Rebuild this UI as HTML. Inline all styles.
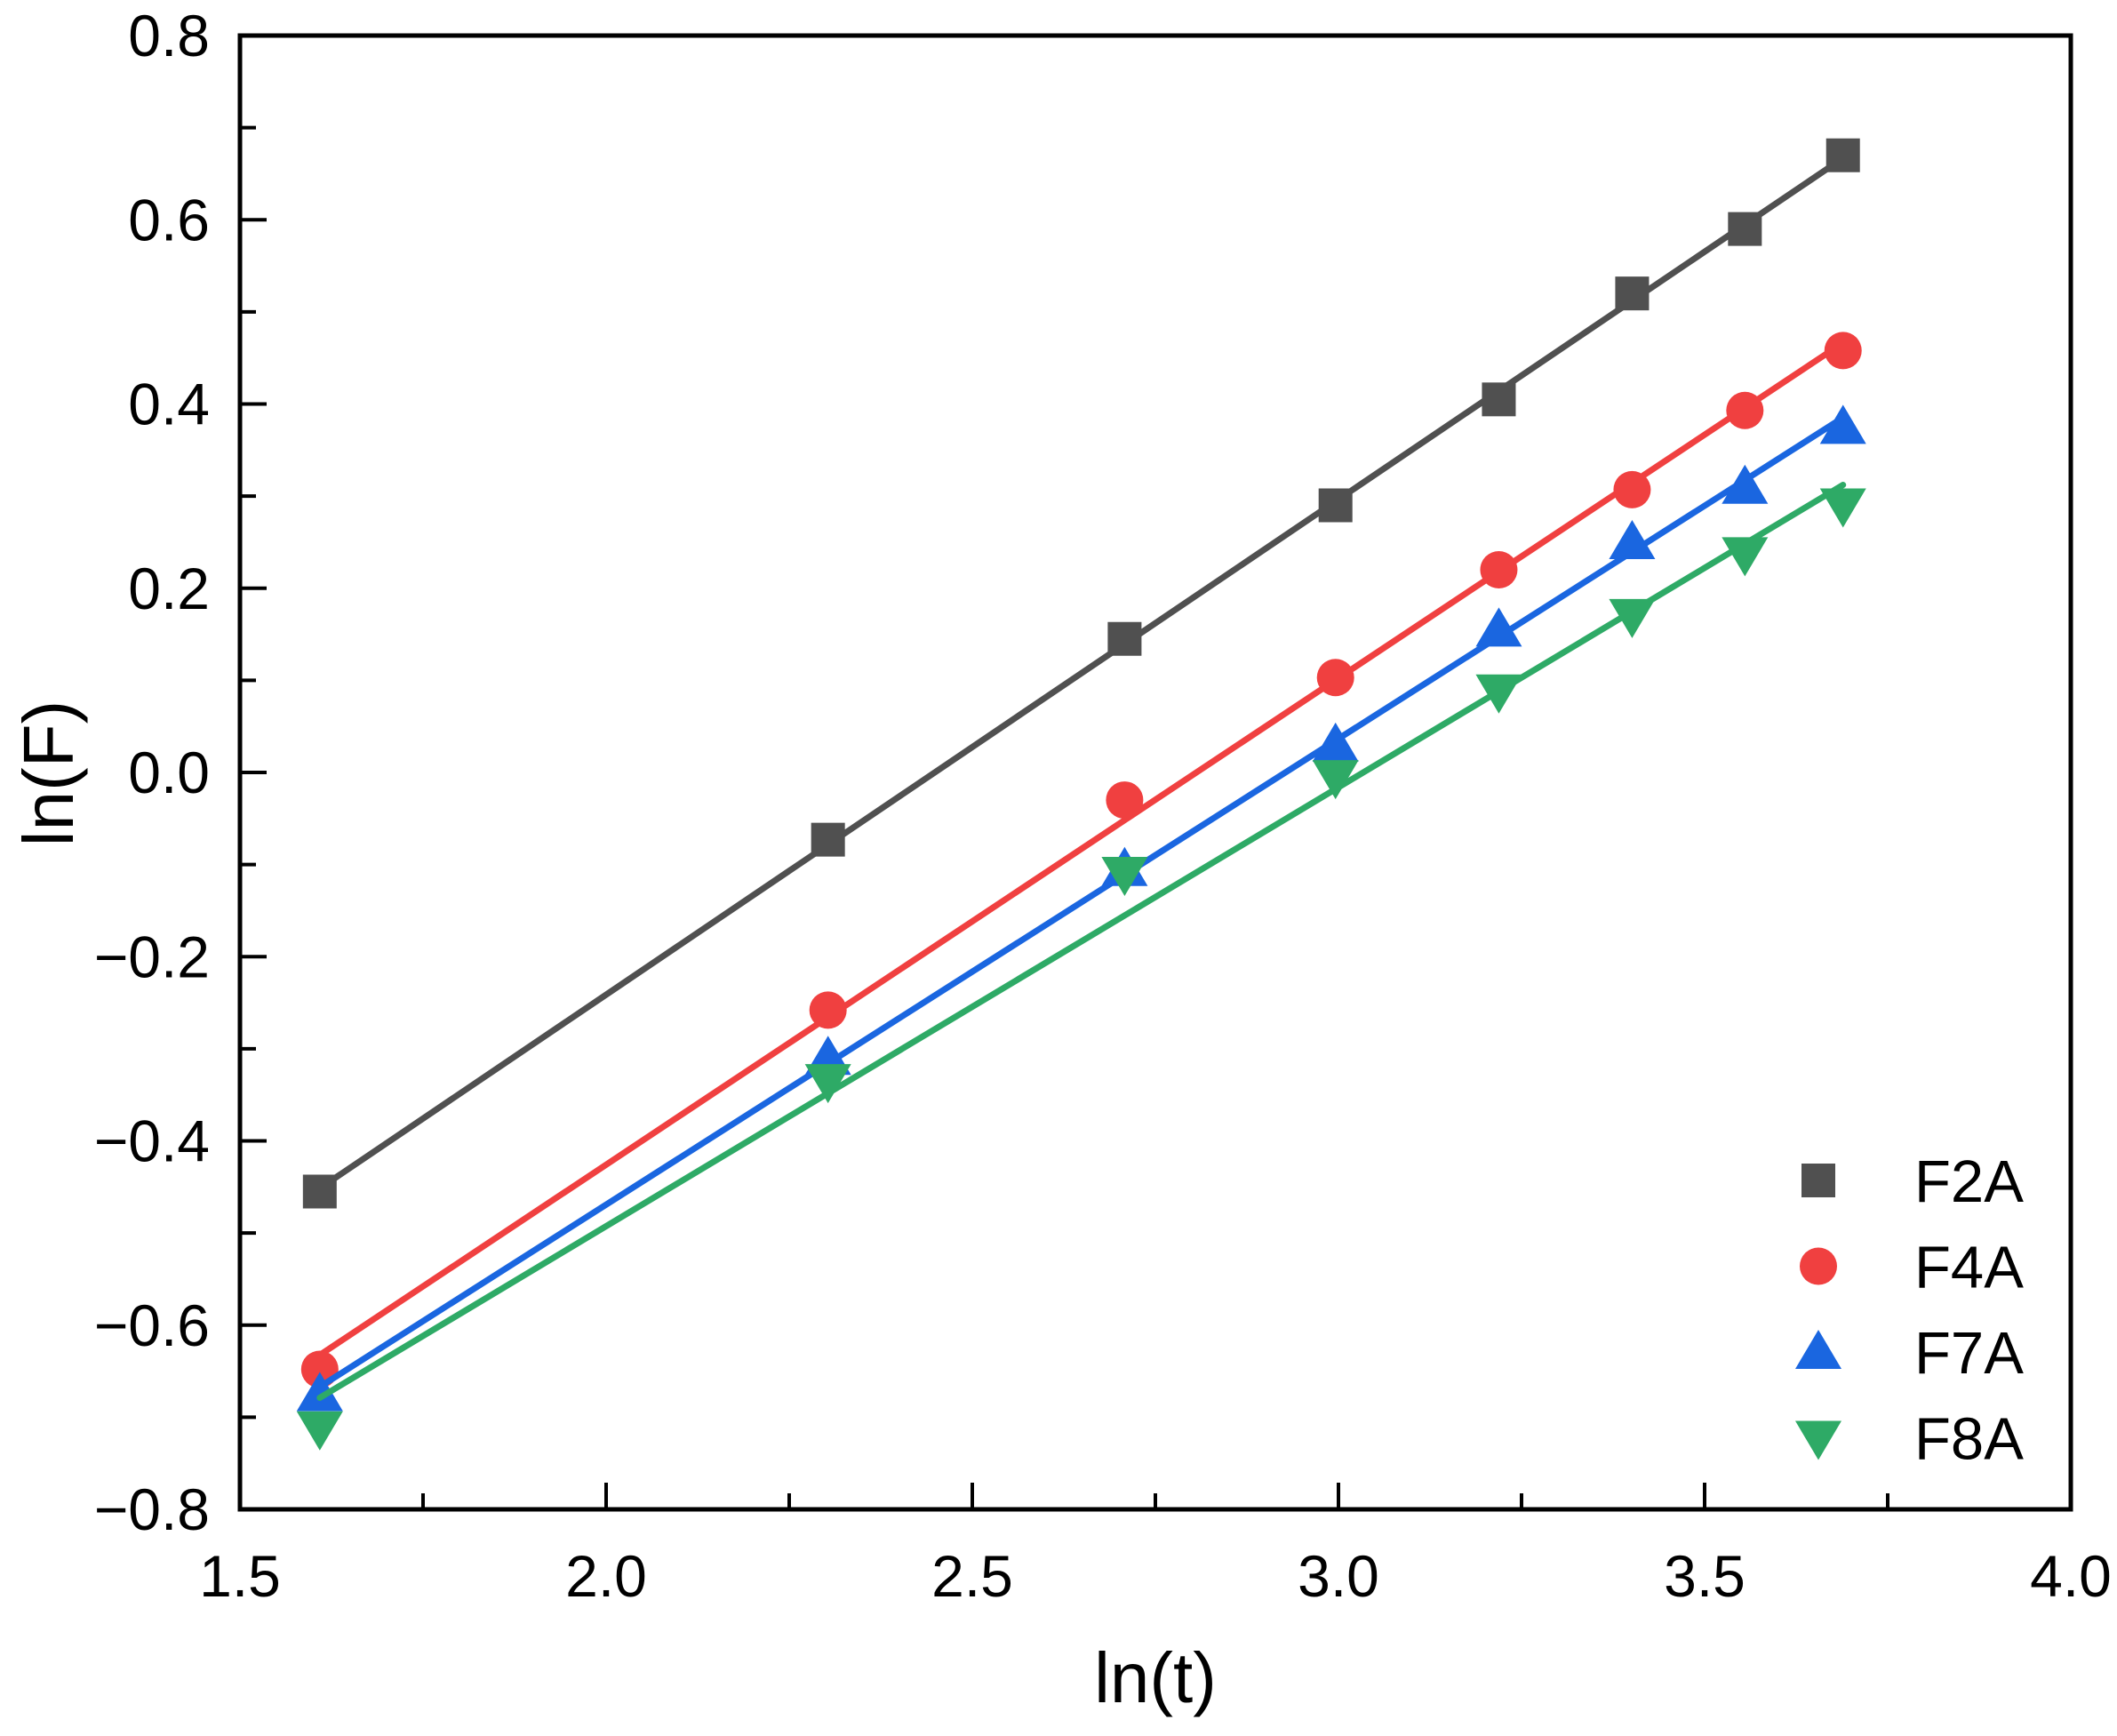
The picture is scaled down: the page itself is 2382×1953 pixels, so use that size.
<!DOCTYPE html>
<html><head><meta charset="utf-8"><style>
html,body{margin:0;padding:0;background:#fff;}
svg{display:block;font-family:"Liberation Sans",Arial,sans-serif;}
</style></head><body>
<svg id="chart" width="2382" height="1953" viewBox="0 0 2382 1953" xmlns="http://www.w3.org/2000/svg">
<rect width="2382" height="1953" fill="#fff"/>
<g id="marks"></g>
<g id="axes"></g>
</svg>
<script>
const xs = [1.609, 2.303, 2.708, 2.996, 3.219, 3.401, 3.555, 3.689];
const f2a = [-0.455, -0.073, 0.145, 0.29, 0.405, 0.52, 0.59, 0.67];
const f4a = [-0.648, -0.258, -0.03, 0.103, 0.22, 0.307, 0.393, 0.458];
const f7a = [-0.675, -0.31, -0.105, 0.03, 0.155, 0.25, 0.31, 0.375];
const f8a = [-0.712, -0.335, -0.11, -0.005, 0.088, 0.17, 0.237, 0.29];
const seriesNames = ["F2A","F4A","F7A","F8A"];
const xTicks = ["1.5","2.0","2.5","3.0","3.5","4.0"];
const yTicks = ["0.8","0.6","0.4","0.2","0.0","\u22120.2","\u22120.4","\u22120.6","\u22120.8"];

const L=270,R=2330,T=40,B=1698;
const X0=1.5,X1=4.0,Y0=-0.8,Y1=0.8;
const sx=v=>L+(v-X0)/(X1-X0)*(R-L);
const sy=v=>B-(v-Y0)/(Y1-Y0)*(B-T);
const NS="http://www.w3.org/2000/svg";
function mk(tag,attrs,parent){const e=document.createElementNS(NS,tag);for(const k in attrs)e.setAttribute(k,attrs[k]);parent.appendChild(e);return e;}
const marks=document.getElementById('marks'), axes=document.getElementById('axes');
const colors=["#505050","#f04040","#1a66e0","#2eaa66"];
const shapes=["square","circle","up","down"];
const allY=[f2a,f4a,f7a,f8a];

function marker(shape,cx,cy,col,parent){
  let e;
  if(shape==="square") e=mk('rect',{x:cx-19,y:cy-19,width:38,height:38,fill:col},parent);
  else if(shape==="circle") e=mk('circle',{cx:cx,cy:cy,r:21,fill:col},parent);
  else if(shape==="up") e=mk('polygon',{points:`${cx},${cy-25} ${cx-26},${cy+19} ${cx+26},${cy+19}`,fill:col},parent);
  else e=mk('polygon',{points:`${cx},${cy+25} ${cx-26},${cy-19} ${cx+26},${cy-19}`,fill:col},parent);
  return e;
}

allY.forEach((ys,si)=>{
  const n=xs.length;let mx=0,my=0;xs.forEach((x,i)=>{mx+=x;my+=ys[i];});mx/=n;my/=n;
  let sxy=0,sxx=0;xs.forEach((x,i)=>{sxy+=(x-mx)*(ys[i]-my);sxx+=(x-mx)*(x-mx);});
  const b=sxy/sxx,a=my-b*mx;
  const xa=xs[0],xb=xs[n-1];
  const ln=mk('line',{x1:sx(xa),y1:sy(a+b*xa),x2:sx(xb),y2:sy(a+b*xb),stroke:colors[si],'stroke-width':7,'stroke-linecap':'round'},marks);
  
  
  ys.forEach((y,i)=>{
    const m=marker(shapes[si],sx(xs[i]),sy(y),colors[si],marks);
    
    
  });
  const ly=1328+si*96.5;
  const lm=marker(shapes[si],2046,ly,colors[si],marks);
  
  
  const lt=mk('text',{x:2154,y:ly+24,'font-size':67,fill:'#000'},marks);
  lt.textContent=seriesNames[si];
  
  
});

const fr=mk('rect',{x:L,y:T,width:R-L,height:B-T,fill:'none',stroke:'#000','stroke-width':5},axes);


for(let i=0;i<=10;i++){
  const v=X0+i*0.25,x=sx(v),major=i%2===0;
  if(i>0&&i<10){const t=mk('line',{x1:x,y1:B,x2:x,y2:B-(major?30:18),stroke:'#000','stroke-width':4},axes);
  }
}
xTicks.forEach((s,i)=>{
  const t=mk('text',{x:sx(X0+i*0.5),y:1796,'font-size':66,'text-anchor':'middle',fill:'#000'},axes);
  t.textContent=s;
  
  
});
for(let i=0;i<=16;i++){
  const v=Y0+i*0.1,y=sy(v),major=i%2===0;
  if(i>0&&i<16){const t=mk('line',{x1:L,y1:y,x2:L+(major?30:18),y2:y,stroke:'#000','stroke-width':4},axes);
  }
}
yTicks.forEach((s,i)=>{
  const t=mk('text',{x:236,y:sy(Y1-i*0.2)+23,'font-size':66,'text-anchor':'end',fill:'#000'},axes);
  t.textContent=s;
  
  
});
const xt=mk('text',{x:1300,y:1915,'font-size':80,'text-anchor':'middle',fill:'#000'},axes);
xt.textContent='ln(t)';


const yt=mk('text',{x:0,y:0,'font-size':80,'text-anchor':'middle',fill:'#000',transform:'translate(82,870) rotate(-90)'},axes);
yt.textContent='ln(F)';


</script>
</body></html>
